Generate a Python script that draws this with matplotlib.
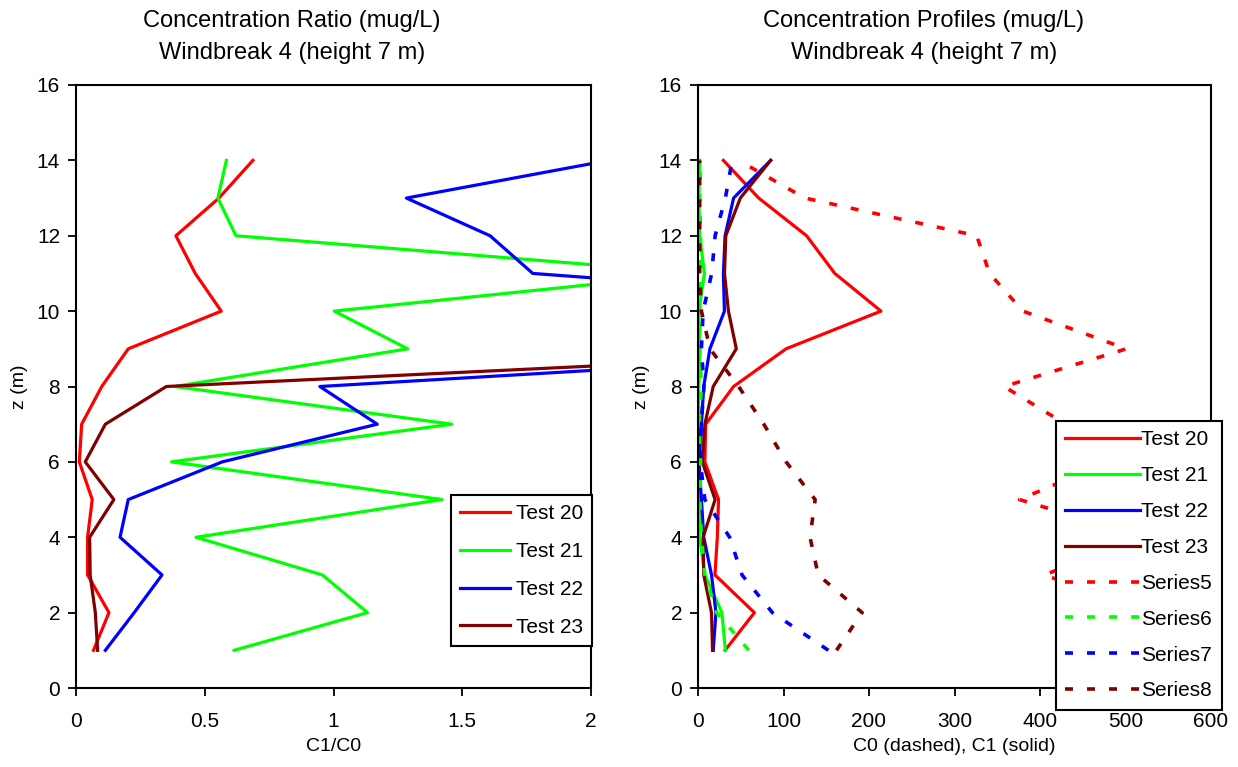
import matplotlib
matplotlib.use("Agg")
import matplotlib.pyplot as plt

plt.rcParams['font.family'] = ['Liberation Sans', 'DejaVu Sans']

# Heights (m)
z = [1, 2, 3, 4, 5, 6, 7, 8, 9, 10, 11, 12, 13, 14]

# Left panel: ratio C1/C0
ratio_t20 = [0.068, 0.128, 0.045, 0.045, 0.063, 0.013, 0.022, 0.10, 0.203, 0.564, 0.463, 0.388, 0.555, 0.687]
ratio_t21 = [0.614, 1.132, 0.957, 0.466, 1.421, 0.371, 1.459, 0.384, 1.288, 1.003, 2.42, 0.621, 0.551, 0.584]
ratio_t22 = [0.114, 0.226, 0.334, 0.171, 0.203, 0.568, 1.170, 0.947, 3.42, 3.74, 1.774, 1.608, 1.283, 2.07]
ratio_t23 = [0.084, 0.075, 0.055, 0.053, 0.147, 0.036, 0.114, 0.351, 3.40, 9.0, 15.0, 16.0, 25.0, 42.0]

# Right panel: C1 (solid)
c1_t20 = [31.7, 66, 19.8, 22.6, 24, 8, 9, 41.6, 103, 214, 160, 127, 71, 29.7]
c1_t21 = [32, 28, 8, 2, 1, 1, 0.5, 1, 2, 1, 7.5, 2, 1, 2]
c1_t22 = [17.8, 21, 15.8, 6.7, 4, 1.2, 4, 6.7, 13.9, 30.9, 29.7, 31.7, 41.6, 85]
c1_t23 = [17, 15.8, 6.7, 6, 20, 5, 8, 17.8, 44.8, 35.6, 31, 32.5, 49.5, 85]

# Right panel: C0 (dashed)
c0_s5 = [480, 530, 405, 520, 376, 480, 430, 358, 501, 380, 341, 326, 125, 47.5]
c0_s6 = [59.4, 22, 8, 4, 2, 3, 1, 4, 2, 2, 3, 3, 2, 3]
c0_s7 = [152.5, 87, 51.5, 37, 8, 2.7, 3.8, 7, 4, 6, 16, 20, 32, 40]
c0_s8 = [162, 192, 140.6, 131, 137, 103, 77, 47.5, 14, 4, 2, 2, 2, 2]

names_test = ['Test 20', 'Test 21', 'Test 22', 'Test 23']
names_series = ['Series5', 'Series6', 'Series7', 'Series8']
colors = ['#FF0000', '#00FF00', '#0000FF', '#800000']

W, H = 1238, 767
fig = plt.figure(figsize=(W / 100, H / 100), dpi=100)

def frac_axes(x0, x1, y0, y1):
    return [x0 / W, 1 - y1 / H, (x1 - x0) / W, (y1 - y0) / H]

ax1 = fig.add_axes(frac_axes(76, 591, 85, 688))
ax2 = fig.add_axes(frac_axes(698, 1211, 85, 688))

LW = 2.3
tick_fs = 15
label_fs = 14
title_fs = 17
leg_fs = 15

for ax in (ax1, ax2):
    ax.set_ylim(0, 16)
    ax.set_yticks(range(0, 17, 2))
    ax.tick_params(direction='out', length=5.5, width=1.3, labelsize=tick_fs, pad=6)
    ax.tick_params(axis='x', pad=11.5)
    for s in ax.spines.values():
        s.set_linewidth(1.5)
        s.set_color('black')
    ax.set_ylabel('z (m)', fontsize=label_fs, labelpad=6)

# Left panel
for vals, c, n in zip([ratio_t20, ratio_t21, ratio_t22, ratio_t23], colors, names_test):
    ax1.plot(vals, z, color=c, lw=LW, label=n)
ax1.set_xlim(0, 2)
ax1.set_xticks([0, 0.5, 1, 1.5, 2])
ax1.set_xticklabels(['0', '0.5', '1', '1.5', '2'])
ax1.set_xlabel('C1/C0', fontsize=label_fs, labelpad=5)

leg1 = ax1.legend(loc='upper left', bbox_to_anchor=(451 / W, 1 - 495 / H),
                  bbox_transform=fig.transFigure, fontsize=leg_fs, frameon=True,
                  fancybox=False, framealpha=1, edgecolor='black',
                  handlelength=2.4, handletextpad=0.25, labelspacing=0.9,
                  borderpad=0.45, borderaxespad=0)
leg1.get_frame().set_linewidth(1.5)

# Right panel
for vals, c, n in zip([c1_t20, c1_t21, c1_t22, c1_t23], colors, names_test):
    ax2.plot(vals, z, color=c, lw=LW, label=n)
for vals, c, n in zip([c0_s5, c0_s6, c0_s7, c0_s8], colors, names_series):
    ax2.plot(vals, z, color=c, lw=2.6, ls=(0, (2.2, 3.9)), label=n)
ax2.set_xlim(0, 600)
ax2.set_xticks(range(0, 601, 100))
ax2.set_xlabel('C0 (dashed), C1 (solid)', fontsize=label_fs, labelpad=5)

leg2 = ax2.legend(loc='upper left', bbox_to_anchor=(1056 / W, 1 - 421 / H),
                  bbox_transform=fig.transFigure, fontsize=leg_fs, frameon=True,
                  fancybox=False, framealpha=1, edgecolor='black',
                  handlelength=3.6, handletextpad=0.05, labelspacing=0.81,
                  borderpad=0.45, borderaxespad=0)
leg2.get_frame().set_linewidth(1.5)
leg2.set_zorder(10)

fig.text(292 / W, 1 - 37 / H, 'Concentration Ratio (mug/L)\nWindbreak 4 (height 7 m)',
         ha='center', va='center', fontsize=title_fs, linespacing=1.55)
fig.text(924 / W, 1 - 37 / H, 'Concentration Profiles (mug/L)\nWindbreak 4 (height 7 m)',
         ha='center', va='center', fontsize=title_fs, linespacing=1.55)

fig.savefig('out.png', dpi=100)
